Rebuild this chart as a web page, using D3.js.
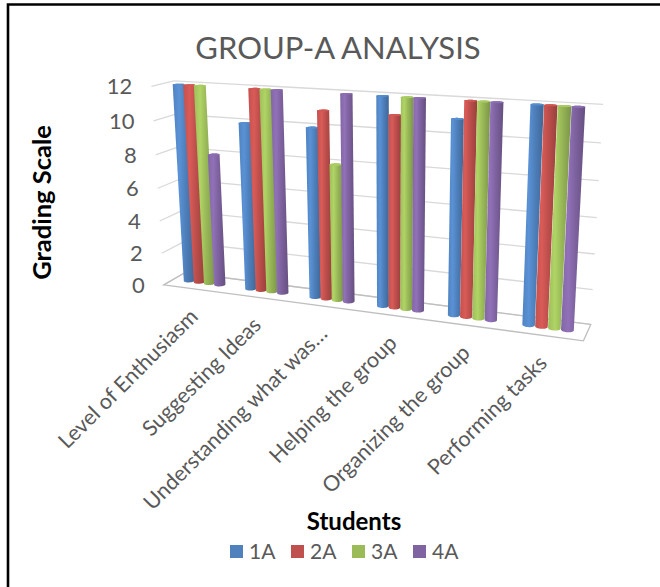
<!DOCTYPE html>
<html>
<head>
<meta charset="utf-8">
<script src="https://cdn.jsdelivr.net/npm/d3@7"></script>
<style>
  body { margin: 0; background: #fff; }
  svg { display: block; }
  text { font-family: Lato, "Open Sans", sans-serif; }
</style>
</head>
<body>
<svg id="chart" width="660" height="587"></svg>
<script>
// ---- data ----
const categories = ["Level of Enthusiasm", "Suggesting Ideas", "Understanding what was…",
                    "Helping the group", "Organizing the group", "Performing tasks"];
const series = ["1A", "2A", "3A", "4A"];
const values1A = [12, 10, 10, 12, 11, 12];
const values2A = [12, 12, 11, 11, 12, 12];
const values3A = [12, 12, 8, 12, 12, 12];
const values4A = [8, 12, 12, 12, 12, 12];
const yTicks = [0, 2, 4, 6, 8, 10, 12];
const seriesColors = ["#4F81BD", "#C0504D", "#9BBB59", "#8064A2"];
const seriesValues = [values1A, values2A, values3A, values4A];

// ---- 3-D view: rotation, tilt and perspective camera ----
const cam = { yaw: 20, pitch: 15, focal: 995, cx: 390, cy: 204.5, dist: 4.57, lookX: 0.123 };
const box = { width: 2.099, height: 1, depth: 0.2 };
const rad = Math.PI / 180;
const ca = Math.cos(cam.yaw * rad), sa = Math.sin(cam.yaw * rad);
const cb = Math.cos(cam.pitch * rad), sb = Math.sin(cam.pitch * rad);
function project(X, Y, Z) {
  const x0 = X - cam.lookX;
  const xr = x0 * ca + Z * sa;
  const zr = -x0 * sa + Z * ca;
  const yc = Y * cb + zr * sb;
  const zc = -Y * sb + zr * cb + cam.dist;
  return [cam.cx + cam.focal * xr / zc, cam.cy - cam.focal * yc / zc, zc];
}

// ---- scales (world units) ----
const x = d3.scaleBand().domain(categories)
  .range([-box.width / 2, box.width / 2]).paddingInner(1 / 3).paddingOuter(1 / 6);
const xs = d3.scaleBand().domain(series).range([0, x.bandwidth()]);
const y = d3.scaleLinear().domain([0, 12]).range([-box.height / 2, box.height / 2]);
const x0 = -box.width / 2, x1 = box.width / 2;
const zF = -box.depth / 2, zB = box.depth / 2;

const svg = d3.select("#chart");
const line = pts => "M" + pts.map(p => p[0].toFixed(2) + "," + p[1].toFixed(2)).join("L");

// ---- frame ----
svg.append("path").attr("d", "M8,587V4.5H660").attr("fill", "none")
  .attr("stroke", "#000").attr("stroke-width", 2.6);

// ---- walls & floor ----
const walls = svg.append("g").attr("fill", "none").attr("stroke", "#D9D9D9").attr("stroke-width", 1.3);
yTicks.forEach(t => {
  walls.append("path").attr("d", line([project(x0, y(t), zB), project(x1, y(t), zB)]));
  walls.append("path").attr("d", line([project(x0, y(t), zF), project(x0, y(t), zB)]));
});
svg.append("path")
  .attr("d", line([project(x0, y(0), zF), project(x1, y(0), zF), project(x1, y(0), zB), project(x0, y(0), zB)]) + "Z")
  .attr("fill", "none").attr("stroke", "#BFBFBF").attr("stroke-width", 1.3);

// ---- cylinder shading ----
const defs = svg.append("defs");
series.forEach((s, j) => {
  const c = d3.color(seriesColors[j]);
  const g = defs.append("linearGradient").attr("id", "cyl" + j)
    .attr("x1", 0).attr("x2", 1).attr("y1", 0).attr("y2", 0);
  [[0, c.brighter(0.05)], [0.3, c.brighter(0.35)], [0.55, c], [1, c.darker(0.65)]]
    .forEach(([o, col]) => g.append("stop").attr("offset", o).attr("stop-color", col.formatHex()));
});

// ---- bars ----
const bars = [];
categories.forEach((cat, i) => series.forEach((s, j) => {
  bars.push({ cat, s, j, v: seriesValues[j][i], X: x(cat) + xs(s) + xs.bandwidth() / 2 });
}));
const r = xs.bandwidth() * 0.48;
const N = 48;
bars.forEach(b => {
  const ring = Y => d3.range(N).map(k => {
    const t = 2 * Math.PI * k / N;
    return project(b.X + r * Math.cos(t), Y, r * Math.sin(t));
  });
  b.bottom = ring(y(0));
  b.top = ring(y(b.v));
  b.depth = project(b.X, y(0), 0)[2];
});
bars.sort((a, b) => b.depth - a.depth);
const barG = svg.append("g");
bars.forEach(b => {
  const hull = d3.polygonHull(b.bottom.concat(b.top).map(p => [p[0], p[1]]));
  barG.append("path").attr("d", line(hull) + "Z").attr("fill", `url(#cyl${b.j})`);
  barG.append("path").attr("d", line(b.top) + "Z")
    .attr("fill", d3.color(seriesColors[b.j]).brighter(0.25).formatHex());
});

// ---- value axis labels ----
yTicks.forEach(t => {
  const p = project(x0, y(t), zF);
  svg.append("text").attr("x", p[0] - 19).attr("y", p[1]).attr("dy", "0.36em")
    .attr("text-anchor", "end").attr("font-size", 22).attr("fill", "#595959").text(t);
});

// ---- category labels ----
categories.forEach(cat => {
  const p = project(x(cat) + x.bandwidth() / 2, y(0), zF);
  svg.append("text")
    .attr("transform", `translate(${(p[0] + 5).toFixed(1)},${(p[1] + 29).toFixed(1)}) rotate(-45)`)
    .attr("text-anchor", "end").attr("font-size", 21.5).attr("fill", "#595959").text(cat);
});

// ---- titles ----
svg.append("text").attr("x", 338).attr("y", 59).attr("text-anchor", "middle")
  .attr("font-size", 31).attr("fill", "#595959").text("GROUP-A ANALYSIS");
svg.append("text").attr("transform", "translate(51,202.5) rotate(-90)").attr("text-anchor", "middle")
  .attr("font-size", 25.5).attr("font-weight", "bold").attr("fill", "#000").text("Grading Scale");
svg.append("text").attr("x", 354).attr("y", 530).attr("text-anchor", "middle")
  .attr("font-size", 24).attr("font-weight", "bold").attr("fill", "#000").text("Students");

// ---- legend ----
const legendX = d3.scalePoint().domain(series).range([230, 413]);
const legend = svg.append("g");
series.forEach((s, j) => {
  const lx = legendX(s);
  legend.append("rect").attr("x", lx).attr("y", 545).attr("width", 13).attr("height", 13)
    .attr("fill", seriesColors[j]);
  legend.append("text").attr("x", lx + 19).attr("y", 558.5).attr("font-size", 21)
    .attr("fill", "#595959").text(s);
});
</script>
</body>
</html>
